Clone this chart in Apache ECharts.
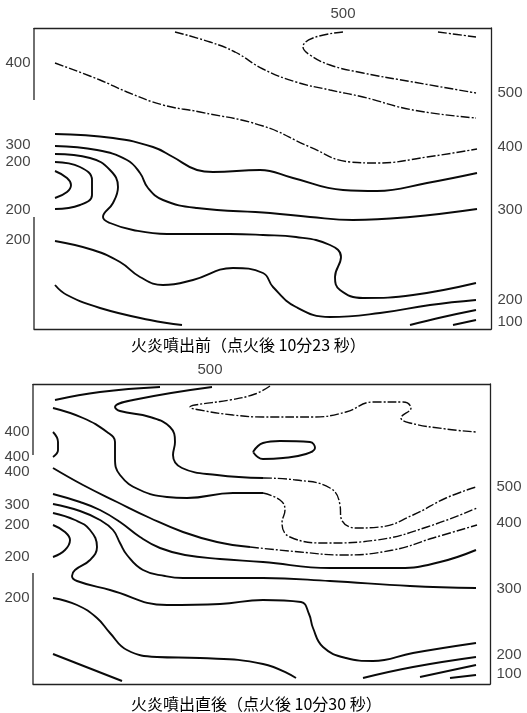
<!DOCTYPE html>
<html><head><meta charset="utf-8">
<script src="https://cdn.jsdelivr.net/npm/echarts@6/dist/echarts.min.js"></script>
<style>html,body{margin:0;padding:0;background:#fff}#c{width:527px;height:713px}</style>
</head><body><div id="c"></div>
<script>
// ---- Panel 1 (before flame ejection): contour lines, x along width, y height from bottom ----
const p1_A = [[309,297],[279,291],[269,282],[276,274],[296,264],[329,256],[379,247],[442,236]];
const p1_B = [[404,297],[442,292]];
const p1_C = [[141,297],[176,287],[201,277],[229,260],[262,247],[296,239],[329,232],[379,219],[442,211]];
const p1_D = [[21,266],[66,249],[93,237],[129,224],[166,217],[229,203],[276,182],[316,167],[343,166],[393,172],[443,180]];
const p1_E = [[21,195],[79,191],[119,182],[139,172],[163,159],[179,157],[226,159],[259,151],[309,139],[343,138],[393,146],[443,156]];
const p1_F = [[21,183],[63,179],[93,169],[106,156],[114,141],[129,129],[163,121],[236,116],[276,112],[319,109],[376,112],[443,120]];
const p1_G = [[21,175],[56,171],[76,159],[84,142],[79,126],[69,112],[76,106],[99,99],[133,95],[196,95],[229,94],[262,92],[296,84],[307,72],[301,52],[306,39],[329,31],[379,34],[442,46]];
const p1_H = [[21,167],[46,162],[58,149],[58,134],[46,124],[21,120]];
const p1_I = [[21,158],[33,151],[37,144],[33,137],[21,131]];
const p1_J = [[21,88],[59,79],[86,67],[106,52],[129,44],[159,49],[199,61],[229,56],[239,42],[262,22],[296,12],[346,16],[396,24],[442,29]];
const p1_K = [[21,44],[33,34],[66,21],[116,9],[148,4]];
const p1_L = [[376,4],[409,12],[442,19]];
const p1_M = [[419,4],[442,9]];
const p1LeftFrame = [[[0,301],[0,229]],[[0,112],[0,0]]];
const p1LeftLabels = [['400',266],['300',184],['200',167],['200',119],['200',89]];
const p1RightLabels = [['500',236],['400',182],['300',119],['200',29],['100',7]];
const p1TopLabels = [['500',309]];
const p1Caption = '火炎噴出前（点火後 10分23 秒）';

// ---- Panel 2 (just after flame ejection) ----
const p2_A = [[22,284],[67,292],[127,297]];
const p2_B1 = [[179,297],[100,284],[82,277],[87,273],[117,267],[137,257],[142,242],[140,229],[149,216],[184,209],[230,206]];
const p2_B2 = [[230,206],[263,204],[297,196],[307,179],[308,166],[323,156],[347,157],[380,169],[413,186],[443,197]];
const p2_C = [[237,298],[222,290],[197,284],[162,279],[157,277],[167,274],[200,269],[230,267],[280,267],[313,272],[340,282],[370,282],[378,276],[368,266],[377,261],[413,255],[443,252]];
const p2_D = [[220,232],[230,241],[247,243],[277,242],[282,236],[273,230],[250,226],[230,225],[220,232]];
const p2_E = [[20,252],[25,242],[25,234],[20,227]];
const p2_F1 = [[20,276],[50,266],[74,252],[82,242],[82,226],[87,209],[107,194],[134,187],[154,186],[200,191],[230,191]];
const p2_F2 = [[230,191],[247,184],[252,174],[249,161],[257,147],[294,141],[344,144],[394,157],[444,176]];
const p2_G1 = [[20,216],[50,199],[84,182],[117,166],[150,152],[184,142],[217,137]];
const p2_G2 = [[217,137],[267,132],[310,129],[360,134],[400,146],[444,159]];
const p2_H = [[20,190],[47,182],[67,174],[87,162],[107,147],[127,136],[152,129],[187,125],[230,122],[297,116],[367,116],[407,122],[443,134]];
const p2_I = [[20,180],[47,173],[67,164],[80,154],[87,141],[94,129],[110,114],[132,108],[150,106],[230,106],[297,103],[377,98],[443,96]];
const p2_J = [[20,171],[42,164],[57,154],[64,137],[57,124],[42,114],[39,108],[44,103],[77,94],[134,79],[187,80],[230,84],[268,82],[276,70],[280,56],[290,37],[313,26],[340,23],[380,31],[443,41]];
const p2_K = [[20,159],[32,152],[37,144],[32,134],[20,127]];
const p2_L = [[20,86],[44,79],[64,66],[77,51],[94,34],[124,27],[167,26],[230,20],[263,6]];
const p2_M = [[330,6],[380,17],[443,27]];
const p2_N = [[387,7],[443,19]];
const p2_O = [[417,6],[443,9]];
const p2_P = [[20,30],[89,3]];
const p2LeftFrame = [[[0,300],[0,229]],[[0,111],[0,0]]];
const p2LeftLabels = [['400',252],['400',227],['400',212],['300',179],['200',159],['200',127],['200',86]];
const p2RightLabels = [['500',197],['400',161],['300',95],['200',29],['100',10]];
const p2TopLabels = [['500',177]];
const p2Caption = '火炎噴出直後（点火後 10分30 秒）';

const W = 457;
const H1 = 301, H2 = 300;

const solid1 = [p1_E,p1_F,p1_G,p1_H,p1_I,p1_J,p1_K,p1_L,p1_M];
const dash1 = [p1_A,p1_B,p1_C,p1_D];
const solid2 = [p2_A,p2_B1,p2_D,p2_E,p2_F1,p2_G1,p2_H,p2_I,p2_J,p2_K,p2_L,p2_M,p2_N,p2_O,p2_P];
const dash2 = [p2_B2,p2_C,p2_F2,p2_G2];

const INK = '#0a0a0a';
function lineSeries(data, g, dashed) {
  return {
    type: 'line', xAxisIndex: g*2, yAxisIndex: g, data: data,
    smooth: 0.45, symbol: 'none', silent: true, clip: false, animation: false,
    lineStyle: dashed ? {color: INK, width: 1.4, type: [9,2,2,2]} : {color: INK, width: 1.9}
  };
}
function frameSeries(data, g) {
  return {type:'line', xAxisIndex:g*2, yAxisIndex:g, data:data, symbol:'none', silent:true, clip:false, animation:false,
    lineStyle:{color:'#222', width:1.3}};
}
function labelSeries(items, g, pos, dist) {
  return {
    type: 'scatter', xAxisIndex: g*2, yAxisIndex: g, symbolSize: 1, clip: false, silent: true, animation: false,
    itemStyle: {color: 'rgba(0,0,0,0)'},
    data: items,
    label: {show: true, position: pos, distance: dist, formatter: '{b}', color: '#111',
      fontFamily: 'Liberation Sans', fontSize: 15}
  };
}

const series = [];
solid1.forEach(d => series.push(lineSeries(d, 0, false)));
dash1.forEach(d => series.push(lineSeries(d, 0, true)));
solid2.forEach(d => series.push(lineSeries(d, 1, false)));
dash2.forEach(d => series.push(lineSeries(d, 1, true)));
p1LeftFrame.forEach(d => series.push(frameSeries(d, 0)));
p2LeftFrame.forEach(d => series.push(frameSeries(d, 1)));
series.push(labelSeries(p1LeftLabels.map(l => ({name:l[0], value:[0,l[1]]})), 0, 'left', 3));
series.push(labelSeries(p1RightLabels.map(l => ({name:l[0], value:[W,l[1]]})), 0, 'right', 6));
series.push(labelSeries(p1TopLabels.map(l => ({name:l[0], value:[l[1],H1]})), 0, 'top', 6));
series.push(labelSeries(p2LeftLabels.map(l => ({name:l[0], value:[0,l[1]]})), 1, 'left', 3));
series.push(labelSeries(p2RightLabels.map(l => ({name:l[0], value:[W,l[1]]})), 1, 'right', 6));
series.push(labelSeries(p2TopLabels.map(l => ({name:l[0], value:[l[1],H2]})), 1, 'top', 6));

function xAx(g, pos) {
  return {gridIndex:g, type:'value', min:0, max:W, position:pos,
    axisLine:{show:true, onZero:false, lineStyle:{color:'#222', width:1.3}},
    axisTick:{show:false}, axisLabel:{show:false}, splitLine:{show:false}};
}
function yAx(g, max) {
  return {gridIndex:g, type:'value', min:0, max:max, position:'right',
    axisLine:{show:true, onZero:false, lineStyle:{color:'#222', width:1.3}},
    axisTick:{show:false}, axisLabel:{show:false}, splitLine:{show:false}};
}

const capStyle = {fontFamily:'Noto Sans CJK JP', fontSize:16, fontWeight:'normal', color:'#000'};
const chart = echarts.init(document.getElementById('c'), null, {renderer:'canvas'});
chart.setOption({
  backgroundColor: '#fff',
  animation: false,
  title: [
    {text: p1Caption, left: 131, top: 337, padding: 0, textStyle: capStyle},
    {text: p2Caption, left: 131, top: 696, padding: 0, textStyle: capStyle}
  ],
  grid: [
    {left:34, top:28, width:W, height:H1, containLabel:false},
    {left:33, top:384, width:W, height:H2, containLabel:false}
  ],
  xAxis: [xAx(0,'bottom'), xAx(0,'top'), xAx(1,'bottom'), xAx(1,'top')],
  yAxis: [yAx(0,H1), yAx(1,H2)],
  series: series
});
</script>
</body></html>
